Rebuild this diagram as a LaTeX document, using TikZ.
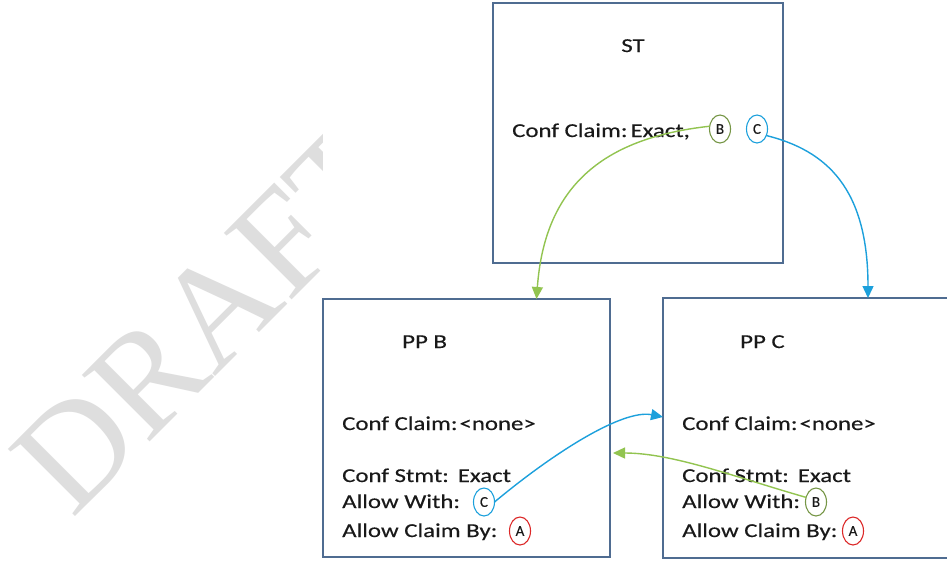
\documentclass[tikz,border=0pt]{standalone}
\usepackage{fontspec}
\setmainfont[FakeStretch=1.26,FakeBold=0.3]{Carlito}
\newfontfamily\ringfont[FakeBold=0.2]{Carlito}
\newfontfamily\wmfont{Liberation Serif}
\usetikzlibrary{shapes.geometric,arrows.meta,calc}

\definecolor{boxline}{RGB}{79,108,145}
\definecolor{arrowgreen}{RGB}{146,196,80}
\definecolor{ringgreen}{RGB}{118,150,70}
\definecolor{arrowblue}{RGB}{28,160,220}
\definecolor{ringred}{RGB}{220,40,40}
\definecolor{inkgray}{RGB}{25,25,25}
\definecolor{wmgray}{RGB}{222,222,222}

\begin{document}
\begin{tikzpicture}[x=1pt,y=1pt,
  box/.style={draw=boxline, line width=1.3pt, rectangle, inner sep=0pt, outer sep=0pt},
  txt/.style={anchor=base west, inner sep=0pt, text=inkgray, font=\fontsize{19.7}{24}\selectfont},
  ring/.style={ellipse, draw=#1, line width=1.1pt, inner sep=0pt, outer sep=0pt,
    minimum width=21pt, minimum height=28pt, text=inkgray, font=\ringfont\fontsize{15}{15}\selectfont},
  link/.style={line width=1.4pt, draw=#1, -{Triangle[length=12pt,width=11pt,fill=#1]}},
]
\clip (0,0) rectangle (947,-560);
\fill[white] (0,0) rectangle (947,-560);

% faint watermark behind the diagram
\node[rotate=45, anchor=base west, inner sep=0pt, text=wmgray,
      font=\wmfont\fontsize{145}{145}\selectfont] (wm) at (72,-520) {DRAFT};
\fill[white] (323,-5) rectangle (947,-560);

% the three boxes
\node[box, minimum width=290pt, minimum height=260pt] (st)  at (638,-133) {};
\node[box, minimum width=287pt, minimum height=258pt] (ppb) at (466.5,-428) {};
\node[box, minimum width=290pt, minimum height=260pt] (ppc) at (808,-428) {};

% ST contents
\node[txt, anchor=base] (stTitle) at (633,-52) {ST};
\node[txt] (stClaim) at (512,-137) {Conf Claim:\hspace{3pt}Exact,};
\node[ring=ringgreen] (stB) at (720,-129) {B};
\node[ring=arrowblue] (stC) at (757,-129) {C};

% PP B contents
\node[txt] (pbTitle) at (402,-348) {PP B};
\node[txt] (pbClaim) at (342,-430) {Conf Claim:\hspace{2pt}\textless none\textgreater};
\node[txt] (pbStmt)  at (342,-482) {Conf Stmt:\hspace{9pt}Exact};
\node[txt] (pbWith)  at (342,-508) {Allow With:};
\node[txt] (pbBy)    at (342,-537) {Allow Claim By:};
\node[ring=arrowblue] (pbC) at (484,-502) {C};
\node[ring=ringred]   (pbA) at (520,-531) {A};

% PP C contents
\node[txt] (pcTitle) at (740,-348) {PP C};
\node[txt] (pcClaim) at (682,-430) {Conf Claim:\hspace{2pt}\textless none\textgreater};
\node[txt] (pcStmt)  at (682,-482) {Conf Stmt:\hspace{9pt}Exact};
\node[txt] (pcWith)  at (682,-508) {Allow With:};
\node[txt] (pcBy)    at (682,-537) {Allow Claim By:};
\node[ring=ringgreen] (pcB) at (816,-502) {B};
\node[ring=ringred]   (pcA) at (853,-531) {A};

% connectors
\draw[link=arrowgreen] (stB.165) .. controls +(-110,-12) and +(8,110) .. ([xshift=70pt]ppb.north);
\draw[link=arrowblue] (stC.-35) .. controls +(60,-15) and +(0,110) .. ([xshift=60pt]ppc.north);
\draw[link=arrowblue] (pbC.east) .. controls +(60,50) and +(-40,8) .. ([yshift=11pt]ppc.west);
\draw[link=arrowgreen] (pcB.155) .. controls +(-70,20) and +(60,0) .. ([xshift=3pt,yshift=-25pt]ppb.east);
\end{tikzpicture}
\end{document}
